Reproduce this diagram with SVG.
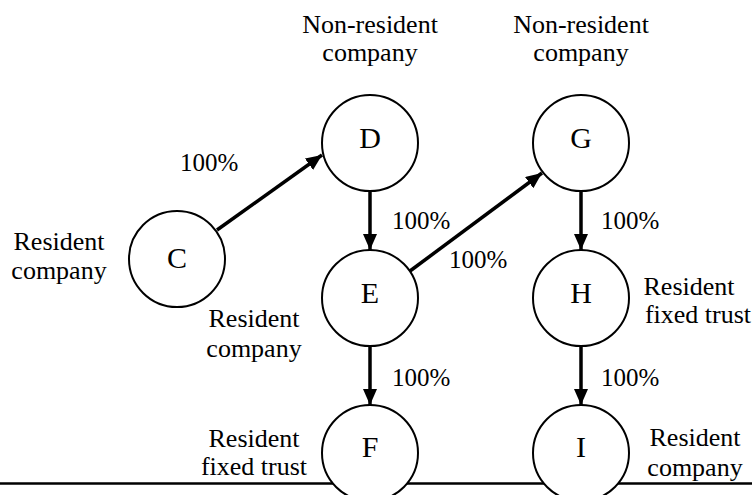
<svg xmlns="http://www.w3.org/2000/svg" width="752" height="495" viewBox="0 0 752 495">
<style>
text{font-family:"Liberation Serif","Times New Roman",serif;fill:#000}
.lbl{font-size:26px;text-anchor:middle}
.pct{font-size:25px}
.let{font-size:30px;text-anchor:middle}
.node circle{fill:#fff;stroke:#000;stroke-width:2}
.conn line{stroke:#000;stroke-width:3.5;marker-end:url(#ah)}
</style>
<defs>
<marker id="ah" markerUnits="userSpaceOnUse" markerWidth="18" markerHeight="16" refX="16" refY="7" orient="auto">
<path d="M0,0 L16,7 L0,14 z" fill="#000"/>
</marker>
</defs>
<line x1="0" y1="483.5" x2="752" y2="483.5" stroke="#000" stroke-width="2.5"/>
<g class="conn" id="connectors">
<line x1="217" y1="230" x2="322" y2="155"/>
<line x1="370" y1="191" x2="370" y2="250"/>
<line x1="410" y1="271" x2="542" y2="173"/>
<line x1="581" y1="191" x2="581" y2="250"/>
<line x1="370" y1="346" x2="370" y2="405"/>
<line x1="581" y1="346" x2="581" y2="405"/>
</g>
<g class="pcts">
<text class="pct" x="180" y="171">100%</text>
<text class="pct" x="392" y="229">100%</text>
<text class="pct" x="449" y="268">100%</text>
<text class="pct" x="601" y="229">100%</text>
<text class="pct" x="392" y="386">100%</text>
<text class="pct" x="601" y="386">100%</text>
</g>
<g class="node" id="node-C">
<circle cx="177" cy="259" r="48"/>
<text class="let" x="177" y="268">C</text>
<text class="lbl" x="59" y="250">Resident</text>
<text class="lbl" x="59" y="279">company</text>
</g>
<g class="node" id="node-D">
<circle cx="370" cy="143" r="48"/>
<text class="let" x="370" y="148">D</text>
<text class="lbl" x="370" y="33">Non-resident</text>
<text class="lbl" x="370" y="61">company</text>
</g>
<g class="node" id="node-G">
<circle cx="581" cy="143" r="48"/>
<text class="let" x="581" y="148">G</text>
<text class="lbl" x="581" y="33">Non-resident</text>
<text class="lbl" x="581" y="61">company</text>
</g>
<g class="node" id="node-E">
<circle cx="370" cy="298" r="48"/>
<text class="let" x="370" y="303">E</text>
<text class="lbl" x="254" y="327">Resident</text>
<text class="lbl" x="254" y="357">company</text>
</g>
<g class="node" id="node-H">
<circle cx="581" cy="298" r="48"/>
<text class="let" x="581" y="303">H</text>
<text class="lbl" x="689" y="295">Resident</text>
<text class="lbl" x="698" y="323">fixed trust</text>
</g>
<g class="node" id="node-F">
<circle cx="370" cy="453" r="48"/>
<text class="let" x="370" y="457">F</text>
<text class="lbl" x="254" y="447">Resident</text>
<text class="lbl" x="254" y="475">fixed trust</text>
</g>
<g class="node" id="node-I">
<circle cx="581" cy="453" r="48"/>
<text class="let" x="581" y="457">I</text>
<text class="lbl" x="695" y="446">Resident</text>
<text class="lbl" x="695" y="476">company</text>
</g>
</svg>
